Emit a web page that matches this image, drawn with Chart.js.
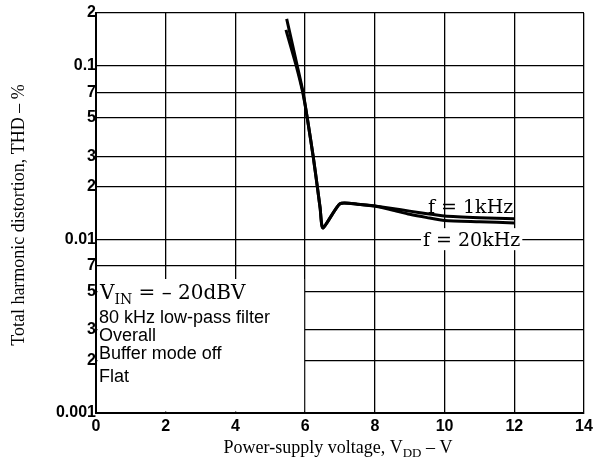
<!DOCTYPE html>
<html>
<head>
<meta charset="utf-8">
<script src="https://cdn.jsdelivr.net/npm/chart.js@4"></script>
<style>
  body { margin: 0; background: #fff; }
  #wrap { width: 602px; height: 462px; }
</style>
</head>
<body>
<div id="wrap"><canvas id="thd" width="602" height="462"></canvas></div>
<script>
// supply voltage (V) and THD (%)
const vdd1k = [5.47, 5.77, 5.94, 6.06, 6.23, 6.35, 6.43, 6.51, 7.0, 7.5, 8.0, 8.5, 9.0, 9.5, 10, 11, 12];
const thd1k = [0.185, 0.1, 0.07, 0.05, 0.03, 0.02, 0.0151, 0.0116, 0.016, 0.0159, 0.0155, 0.015, 0.0145, 0.014, 0.0136, 0.0133, 0.0131];
const vdd20k = [5.45, 5.74, 5.93, 6.06, 6.23, 6.35, 6.43, 6.51, 7.0, 7.5, 8.0, 8.5, 9.0, 9.5, 10, 11, 12];
const thd20k = [0.16, 0.1, 0.07, 0.05, 0.03, 0.02, 0.0151, 0.0116, 0.016, 0.0159, 0.0155, 0.0147, 0.0139, 0.0133, 0.0128, 0.0126, 0.0124];

const yTicks = [0.001, 0.002, 0.003, 0.005, 0.007, 0.01, 0.02, 0.03, 0.05, 0.07, 0.1, 0.2];
const yTickLabels = ['0.001', '2', '3', '5', '7', '0.01', '2', '3', '5', '7', '0.1', '2'];
const xTicks = [0, 2, 4, 6, 8, 10, 12, 14];

const notes = ['80 kHz low-pass filter', 'Overall', 'Buffer mode off', 'Flat'];

function pts(xs, ys) {
  return xs.map((x, i) => ({ x: x, y: ys[i] }));
}

// draws "main" + subscript + "rest" starting at x, baseline y
function subText(ctx, x, y, main, sub, rest, font, subFont, drop) {
  ctx.font = font;
  ctx.fillText(main, x, y);
  x += ctx.measureText(main).width;
  ctx.font = subFont;
  ctx.fillText(sub, x, y + drop);
  x += ctx.measureText(sub).width;
  ctx.font = font;
  ctx.fillText(rest, x, y);
}
function subWidth(ctx, main, sub, rest, font, subFont) {
  ctx.font = font;
  let w = ctx.measureText(main).width + ctx.measureText(rest).width;
  ctx.font = subFont;
  return w + ctx.measureText(sub).width;
}

const extras = {
  id: 'extras',
  beforeDatasetsDraw(chart) {
    const { ctx, scales: { x, y } } = chart;
    // blank panel for the conditions text
    ctx.save();
    ctx.fillStyle = '#fff';
    const l = x.getPixelForValue(0) + 1.5, r = x.getPixelForValue(6) - 1;
    const t = y.getPixelForValue(0.0059), b = y.getPixelForValue(0.001) - 1.5;
    ctx.fillRect(l, t, r - l, b - t);
    ctx.restore();
  },
  afterDatasetsDraw(chart) {
    const { ctx, scales: { x, y } } = chart;
    ctx.save();
    ctx.fillStyle = '#000';
    ctx.textBaseline = 'alphabetic';

    // curve labels
    ctx.font = '19px "DejaVu Serif"';
    ctx.textAlign = 'left';
    ctx.fillText('f = 1kHz', 428, 213);
    const lab = 'f = 20kHz';
    const w = ctx.measureText(lab).width;
    const lx = 423, ly = y.getPixelForValue(0.01);
    ctx.fillStyle = '#fff';
    ctx.fillRect(lx - 2, ly - 11, w + 4, 22);
    ctx.fillStyle = '#000';
    ctx.fillText(lab, lx, ly + 7);

    // conditions
    subText(ctx, 100, 299, 'V', 'IN', ' = \u2013 20dBV', '20px "DejaVu Serif"', '14px "DejaVu Serif"', 5);
    ctx.font = '18px "Liberation Sans"';
    ctx.textBaseline = 'middle';
    const ny = [318, 336, 354, 377];
    notes.forEach((s, i) => ctx.fillText(s, 99, ny[i]));
    ctx.restore();
  },
  afterDraw(chart) {
    const { ctx } = chart;
    ctx.save();
    ctx.fillStyle = '#000';
    ctx.textBaseline = 'alphabetic';
    ctx.textAlign = 'left';
    const f = '18px "Liberation Serif"', sf = '13px "Liberation Serif"';
    const w = subWidth(ctx, 'Power-supply voltage, V', 'DD', ' \u2013 V', f, sf);
    subText(ctx, 338 - w / 2, 453, 'Power-supply voltage, V', 'DD', ' \u2013 V', f, sf, 4);

    ctx.translate(24, 215);
    ctx.rotate(-Math.PI / 2);
    ctx.font = f;
    ctx.textAlign = 'center';
    ctx.fillText('Total harmonic distortion, THD \u2013 %', 0, 0);
    ctx.restore();
  }
};

const tickFont = { family: 'Liberation Sans', size: 16, weight: 'bold' };

const ctx = document.getElementById('thd').getContext('2d');
new Chart(ctx, {
  type: 'line',
  data: {
    datasets: [
      {
        label: 'f = 1kHz',
        data: pts(vdd1k, thd1k),
        borderColor: '#000',
        borderWidth: 3,
        pointRadius: 0,
        tension: 0.2
      },
      {
        label: 'f = 20kHz',
        data: pts(vdd20k, thd20k),
        borderColor: '#000',
        borderWidth: 3,
        pointRadius: 0,
        tension: 0.2
      }
    ]
  },
  options: {
    responsive: false,
    animation: false,
    layout: { padding: { top: 13, right: 18, left: 0, bottom: 0 } },
    plugins: {
      legend: { display: false },
      tooltip: { enabled: false }
    },
    scales: {
      x: {
        type: 'linear',
        min: 0,
        max: 14,
        afterBuildTicks: (s) => { s.ticks = xTicks.map(v => ({ value: v })); },
        afterFit: (s) => { s.height = 49; },
        grid: { color: '#000', lineWidth: 1.3, drawTicks: false },
        border: { color: '#000', width: 2 },
        ticks: { color: '#000', padding: 4, maxRotation: 0, font: tickFont }
      },
      y: {
        type: 'logarithmic',
        min: 0.001,
        max: 0.2,
        afterBuildTicks: (s) => { s.ticks = yTicks.map(v => ({ value: v })); },
        afterFit: (s) => { s.width = 96; },
        grid: { color: '#000', lineWidth: 1.3, drawTicks: false },
        border: { color: '#000', width: 2 },
        ticks: {
          color: '#000',
          padding: 0,
          autoSkip: false,
          font: tickFont,
          callback: (v, i) => yTickLabels[i]
        }
      }
    }
  },
  plugins: [extras]
});
</script>
</body>
</html>
